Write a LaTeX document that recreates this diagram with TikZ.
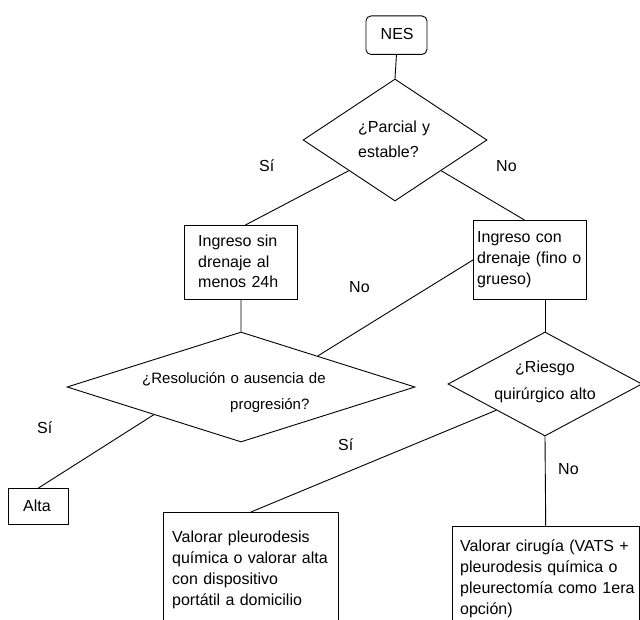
\documentclass[tikz,border=0pt]{standalone}
\usepackage{fontspec}
\setmainfont{Liberation Sans}
\usetikzlibrary{shapes.geometric,calc}
\begin{document}
\begin{tikzpicture}[x=1pt,y=-1pt,
  line/.style={draw=black,line width=0.9pt},
  box/.style={draw=black,line width=0.9pt,rectangle,inner sep=0pt,anchor=north west},
  dec/.style={draw=black,line width=0.9pt,diamond,inner sep=0pt},
  txt/.style={anchor=base west,align=left,inner sep=0pt,text width=200pt},
  lbl/.style={anchor=base west,inner sep=0pt,font=\fontsize{16}{19}\selectfont}]
\useasboundingbox (0,0) rectangle (640,620);
\clip (0,0) rectangle (640,620);
% shapes
\node[box,rounded corners=5pt,minimum width=61pt,minimum height=38.5pt] (nes) at (365.5,15.5) {};
\node[dec,minimum width=184pt,minimum height=122pt] (d1) at (395,140) {};
\node[box,minimum width=113pt,minimum height=74pt] (b1) at (184,225) {};
\node[box,minimum width=113pt,minimum height=79pt] (b2) at (473,220) {};
\node[dec,minimum width=348pt,minimum height=110pt] (d2) at (241,387) {};
\node[dec,minimum width=194pt,minimum height=104pt] (d3) at (545,384) {};
\node[box,minimum width=60pt,minimum height=36pt] (alta) at (8,488) {};
\node[box,minimum width=175pt,minimum height=130pt] (b3) at (163,512) {};
\node[box,minimum width=186.5pt,minimum height=120pt] (b4) at (452,526) {};
% texts
\node[lbl] (tnes) at (380.5,40) {NES};
\node[txt,font=\fontsize{16}{25.5}\selectfont] (td1) at (358,132.3) {¿Parcial y\\estable?};
\node[txt,font=\fontsize{16}{20.3}\selectfont] (tb1) at (198,247) {Ingreso sin\\drenaje al\\menos 24h};
\node[txt,font=\fontsize{16}{21}\selectfont] (tb2) at (477,243) {Ingreso con\\drenaje (fino o\\grueso)};
\node[txt,font=\fontsize{15}{26}\selectfont] (td2) at (142,383) {¿Resolución o ausencia de\\\hspace*{88pt}progresión?};
\node[anchor=base,align=center,inner sep=0pt,text width=140pt,font=\fontsize{16}{26}\selectfont] (td3) at (545,373) {¿Riesgo\\quirúrgico alto};
\node[lbl] (talta) at (23,511.7) {Alta};
\node[txt,font=\fontsize{16}{21.3}\selectfont] (tb3) at (172,542) {Valorar pleurodesis\\química o valorar alta\\con dispositivo\\portátil a domicilio};
\node[txt,font=\fontsize{16}{21.3}\selectfont] (tb4) at (460,551) {Valorar cirugía (VATS +\\pleurodesis química o\\pleurectomía como 1era\\opción)};
% labels
\node[lbl] (l1) at (259,172) {Sí};
\node[lbl] (l2) at (496,172) {No};
\node[lbl] (l3) at (349,293) {No};
\node[lbl] (l4) at (37,433) {Sí};
\node[lbl] (l5) at (338,450) {Sí};
\node[lbl] (l6) at (558,474) {No};
% connectors
\draw[line] (nes.south) -- (d1.north);
\draw[line] (d1.south west) -- ($(b1.north)+(4.5,0)$);
\draw[line] (d1.south east) -- ($(b2.north)+(-5.5,0)$);
\draw[line] (b1.south) -- (d2.north);
\draw[line] (b2.west) -- ($(d2.north)!0.44!(d2.east)$);
\draw[line] (d3.north |- b2.south) -- (d3.north);
\draw[line] (d2.south west) -- (alta.north);
\draw[line] (d3.south west) -- (b3.north);
\draw[line] (d3.south) -- (b4.north);
\end{tikzpicture}
\end{document}
